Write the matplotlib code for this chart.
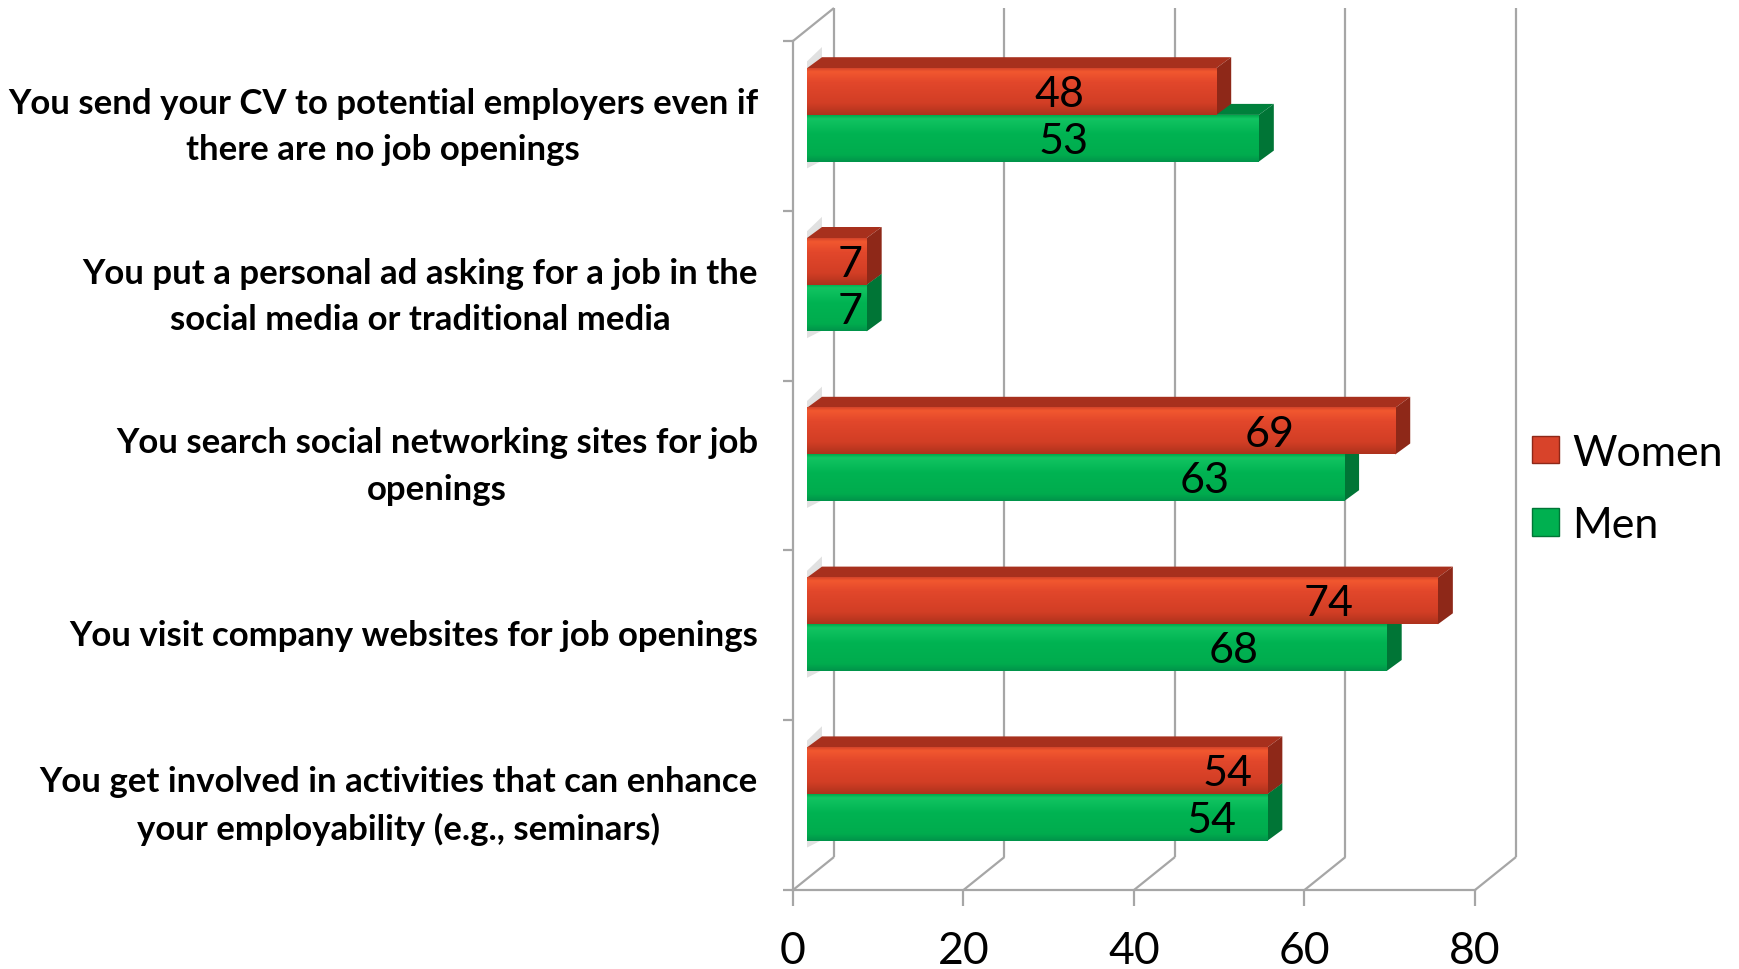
import matplotlib.pyplot as plt
from matplotlib.patches import Polygon, Patch
from matplotlib.colors import to_rgb
from matplotlib.transforms import blended_transform_factory, offset_copy
import numpy as np

# survey answers, top to bottom
categories = [
    "You send your CV to potential employers even if\nthere are no job openings",
    "You put a personal ad asking for a job in the\nsocial media or traditional media",
    "You search social networking sites for job\nopenings",
    "You visit company websites for job openings",
    "You get involved in activities that can enhance\nyour employability (e.g., seminars)",
]
women = [48, 7, 69, 74, 54]
men = [53, 7, 63, 68, 54]
# where the number sits along each bar (value units)
women_label_x = [29.6, 5.1, 54.3, 61.2, 49.3]
men_label_x = [30.1, 5.1, 46.7, 50.1, 47.5]
xticks = [0, 20, 40, 60, 80]

plt.rcParams['font.family'] = ['Lato', 'DejaVu Sans']

W, H = 682, 849  # axes size in pixels
fig = plt.figure(figsize=(17.4, 9.7), dpi=100)
ax = fig.add_axes([793 / 1740, 79 / 970, W / 1740, H / 970])
ax.set_xlim(0, 80)
ax.set_ylim(4.5, -0.5)


def px(dx, dy):
    # pixel shift (right, up) -> data shift
    return dx * 80 / W, -dy * 5 / H


grid_c = '#A6A6A6'
lw = 1.6
bx, by = px(41, 33)     # back wall
fx, fy = px(14, 11)     # front face of the bars
dx, dy = px(15, 11)     # bar depth
bh = 0.275

# walls and floor
kw = dict(color=grid_c, lw=lw, clip_on=False, zorder=1, solid_capstyle='butt')
ax.plot([bx, bx], [4.5 + by, -0.5 + by], **kw)
ax.plot([0, bx], [-0.5, -0.5 + by], **kw)
for t in xticks:
    ax.plot([t, t + bx], [4.5, 4.5 + by], **kw)
    if t > 0:
        ax.plot([t + bx, t + bx], [4.5 + by, -0.5 + by], **kw)


def gradient(stops, n=64):
    pos = [s[0] for s in stops]
    cols = np.array([to_rgb(s[1]) for s in stops])
    t = np.linspace(0, 1, n)
    return np.stack([np.interp(t, pos, cols[:, k]) for k in range(3)], axis=1)[:, None, :]


red_grad = gradient([(0, '#D5452B'), (0.07, '#F2582F'), (0.3, '#E2472B'),
                     (0.75, '#D23E25'), (1, '#AE321D')])
green_grad = gradient([(0, '#00A94C'), (0.07, '#12C462'), (0.4, '#00B352'),
                       (0.85, '#00AC4E'), (1, '#00944A')])

styles = {
    'women': dict(grad=red_grad, top='#A7301D', side='#8E2818'),
    'men': dict(grad=green_grad, top='#00803C', side='#007536'),
}


def bar3d(v, y0, y1, st):
    x0 = fx
    x1 = fx + v
    t0, t1 = y0 + fy, y1 + fy
    # soft shadow on the side wall
    ax.add_patch(Polygon([(x0, t0 - 0.04), (x0 + dx, t0 + dy - 0.06),
                          (x0 + dx, t1 + dy + 0.06), (x0, t1 + 0.04)],
                         closed=True, fc='#BDBDBD', ec='none', alpha=0.45, zorder=2))
    ax.add_patch(Polygon([(x0, t0), (x1, t0), (x1 + dx, t0 + dy), (x0 + dx, t0 + dy)],
                         closed=True, fc=st['top'], ec='none', zorder=3))
    ax.add_patch(Polygon([(x1, t0), (x1, t1), (x1 + dx, t1 + dy), (x1 + dx, t0 + dy)],
                         closed=True, fc=st['side'], ec='none', zorder=3))
    ax.imshow(st['grad'], extent=[x0, x1, t1, t0], aspect='auto',
              interpolation='bilinear', zorder=3)


for i in range(len(categories)):
    bar3d(men[i], i, i + bh, styles['men'])
    bar3d(women[i], i - bh, i, styles['women'])
    ax.text(fx + women_label_x[i], i - bh / 2 + fy + 0.015, str(women[i]),
            ha='center', va='center', fontsize=31, zorder=5)
    ax.text(fx + men_label_x[i], i + bh / 2 + fy + 0.015, str(men[i]),
            ha='center', va='center', fontsize=31, zorder=5)

ax.set_xlim(0, 80)
ax.set_ylim(4.5, -0.5)

for s in ['top', 'right']:
    ax.spines[s].set_visible(False)
for s in ['left', 'bottom']:
    ax.spines[s].set_color(grid_c)
    ax.spines[s].set_linewidth(lw)

ax.set_xticks(xticks)
ax.set_xticklabels([str(t) for t in xticks], fontsize=32)
ax.tick_params(axis='x', length=11.5, width=lw, color=grid_c, pad=17)

ax.set_yticks(np.arange(-0.5, 5, 1))
ax.set_yticklabels([])
ax.tick_params(axis='y', which='major', length=7, width=lw, color=grid_c)

# category names, right-aligned left of the axis
lab_tr = offset_copy(blended_transform_factory(ax.transAxes, ax.transData),
                     fig=fig, x=-35, y=0, units='dots')
for i, name in enumerate(categories):
    ax.text(0, i, name, transform=lab_tr, ha='right', va='center',
            multialignment='center', fontsize=25, fontweight='bold', linespacing=1.55)

handles = [Patch(facecolor='#D8432A', edgecolor='#8E2818', label='Women'),
           Patch(facecolor='#00B050', edgecolor='#007536', label='Men')]
fig.legend(handles=handles, loc='center left', bbox_to_anchor=(1532 / 1740, 1 - 490 / 970),
           frameon=False, fontsize=31, handlelength=0.63, handleheight=0.6,
           handletextpad=0.3, labelspacing=0.8, borderpad=0, borderaxespad=0)

fig.savefig('out.png', dpi=100)
